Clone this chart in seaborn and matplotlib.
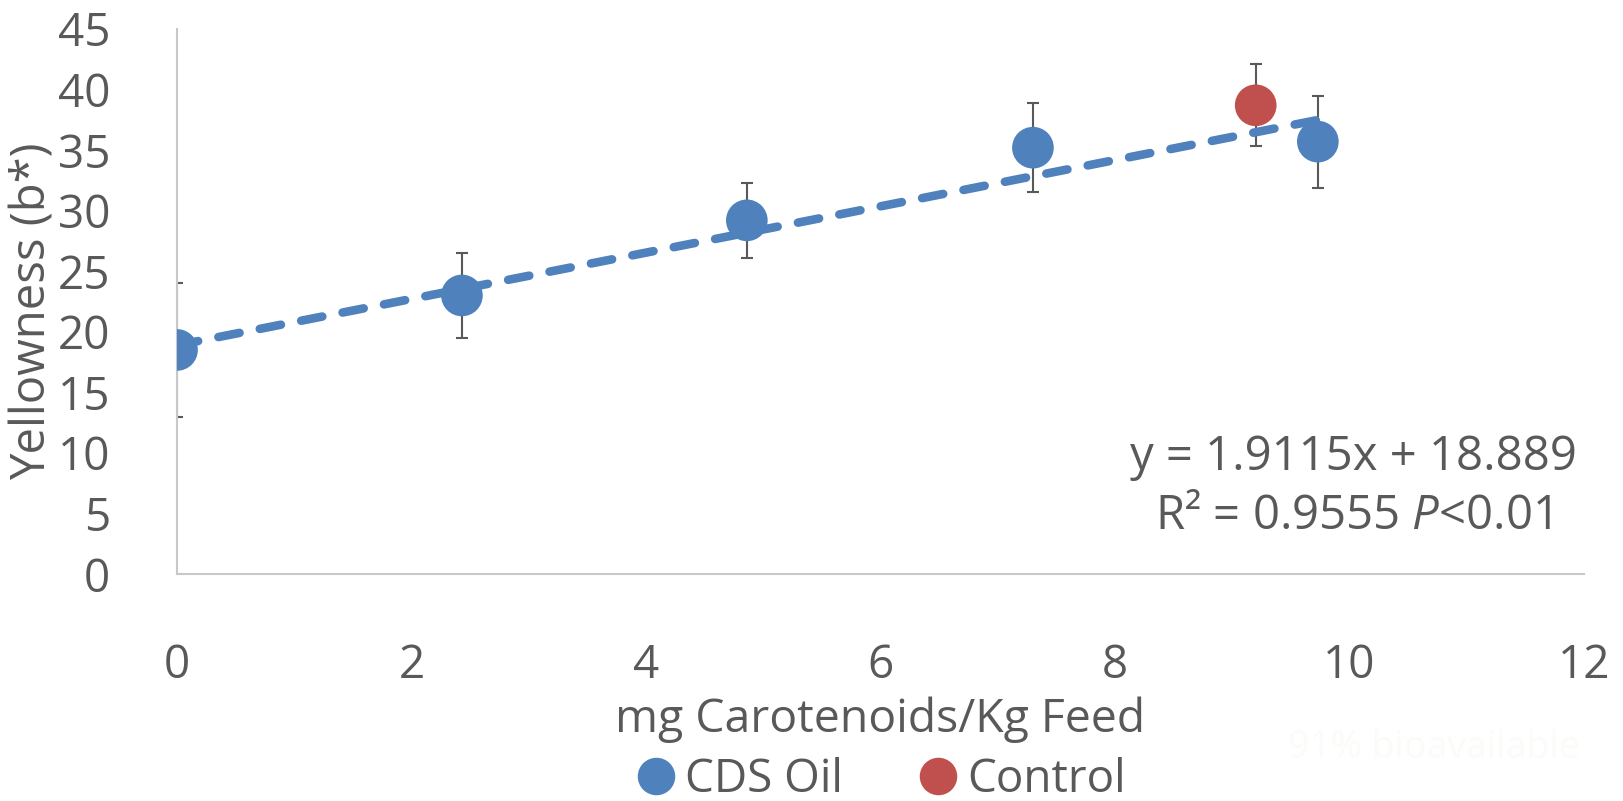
import numpy as np
import pandas as pd
import matplotlib
matplotlib.use("Agg")
import matplotlib.pyplot as plt
from matplotlib.lines import Line2D
import seaborn as sns

# ---- data ----
cds_x = [0.0, 2.43, 4.86, 7.30, 9.73]
cds_y = [18.5, 23.0, 29.2, 35.2, 35.7]
cds_err = [5.5, 3.5, 3.1, 3.7, 3.8]
ctrl_x = [9.2]
ctrl_y = [38.7]
ctrl_err = [3.4]
slope, intercept = 1.9115, 18.889
xticks = [0, 2, 4, 6, 8, 10, 12]
yticks = [0, 5, 10, 15, 20, 25, 30, 35, 40, 45]
series_names = ["CDS Oil", "Control"]
colors = {"CDS Oil": "#4f81bd", "Control": "#c0504d"}

df = pd.DataFrame({
    "x": cds_x + ctrl_x,
    "y": cds_y + ctrl_y,
    "err": cds_err + ctrl_err,
    "series": ["CDS Oil"] * len(cds_x) + ["Control"] * len(ctrl_x),
})

sns.set_theme(style="white")
FONT = ["Open Sans", "DejaVu Sans"]
plt.rcParams["font.family"] = FONT
plt.rcParams["mathtext.fontset"] = "custom"
plt.rcParams["mathtext.rm"] = "Open Sans"
plt.rcParams["mathtext.it"] = "Open Sans:italic"

W, H = 1623, 801
fig = plt.figure(figsize=(W / 100, H / 100), dpi=100)
ax = fig.add_axes([177 / W, 1 - 574 / H, (1584 - 177) / W, (574 - 29) / H])

txt = "#595959"

# error bars
ax.errorbar(df["x"], df["y"], yerr=df["err"], fmt="none", ecolor="#595959",
            elinewidth=1.5, capsize=4.5, capthick=1.5, zorder=2)

# markers
sns.scatterplot(data=df, x="x", y="y", hue="series", palette=colors,
                s=30 ** 2, edgecolor="none", linewidth=0, legend=False,
                ax=ax, zorder=3)

# trendline
tx = np.array([min(cds_x), max(cds_x)])
ax.plot(tx, slope * tx + intercept, color="#4f81bd", lw=6.2,
        linestyle=(0, (2.5, 2.4)), dash_capstyle="round", zorder=4)

ax.set_xlim(0, 12)
ax.set_ylim(0, 45)
ax.set_xticks(xticks)
ax.set_yticks(yticks)
ax.tick_params(axis="both", length=0, labelsize=33, labelcolor=txt)
ax.tick_params(axis="x", pad=50)
ax.tick_params(axis="y", pad=48)
for s in ["top", "right"]:
    ax.spines[s].set_visible(False)
for s in ["left", "bottom"]:
    ax.spines[s].set_color("#c8c8c8")
    ax.spines[s].set_linewidth(1.5)
ax.grid(False)

ax.set_xlabel("mg Carotenoids/Kg Feed", fontsize=33.4, color=txt)
ax.set_ylabel("Yellowness (b*)", fontsize=34, color=txt)
ax.xaxis.set_label_coords(0.5, -(720 - 574) / (574 - 29))
ax.xaxis.label.set_va("center")
ax.yaxis.set_label_coords(-(177 - 33) / (1584 - 177), 1 - (311 - 29) / (574 - 29))
ax.yaxis.label.set_va("center")

# equation text
fig.text(1353 / W, 1 - 457 / H, "y = 1.9115x + 18.889", fontsize=34,
         color=txt, ha="center", va="center")
fig.text(1353 / W, 1 - 516 / H, r"R² = 0.9555 $\mathit{P}$<0.01", fontsize=34,
         color=txt, ha="center", va="center")

# faint watermark
fig.text(1288 / W, 1 - 748 / H, "91% bioavailable", fontsize=27,
         color="#fbfbf8", ha="left", va="center")

# legend
handles = [Line2D([], [], marker="o", linestyle="none", markersize=27,
                  markerfacecolor=colors[n], markeredgewidth=0) for n in series_names]
leg = fig.legend(handles, series_names, loc="center", bbox_to_anchor=(882 / W, 1 - 780 / H),
                 ncol=2, frameon=False, fontsize=33, handletextpad=0.23,
                 columnspacing=1.68, handlelength=0.8, borderaxespad=0, borderpad=0)
for t in leg.get_texts():
    t.set_color(txt)

fig.savefig("out.png", dpi=100)
